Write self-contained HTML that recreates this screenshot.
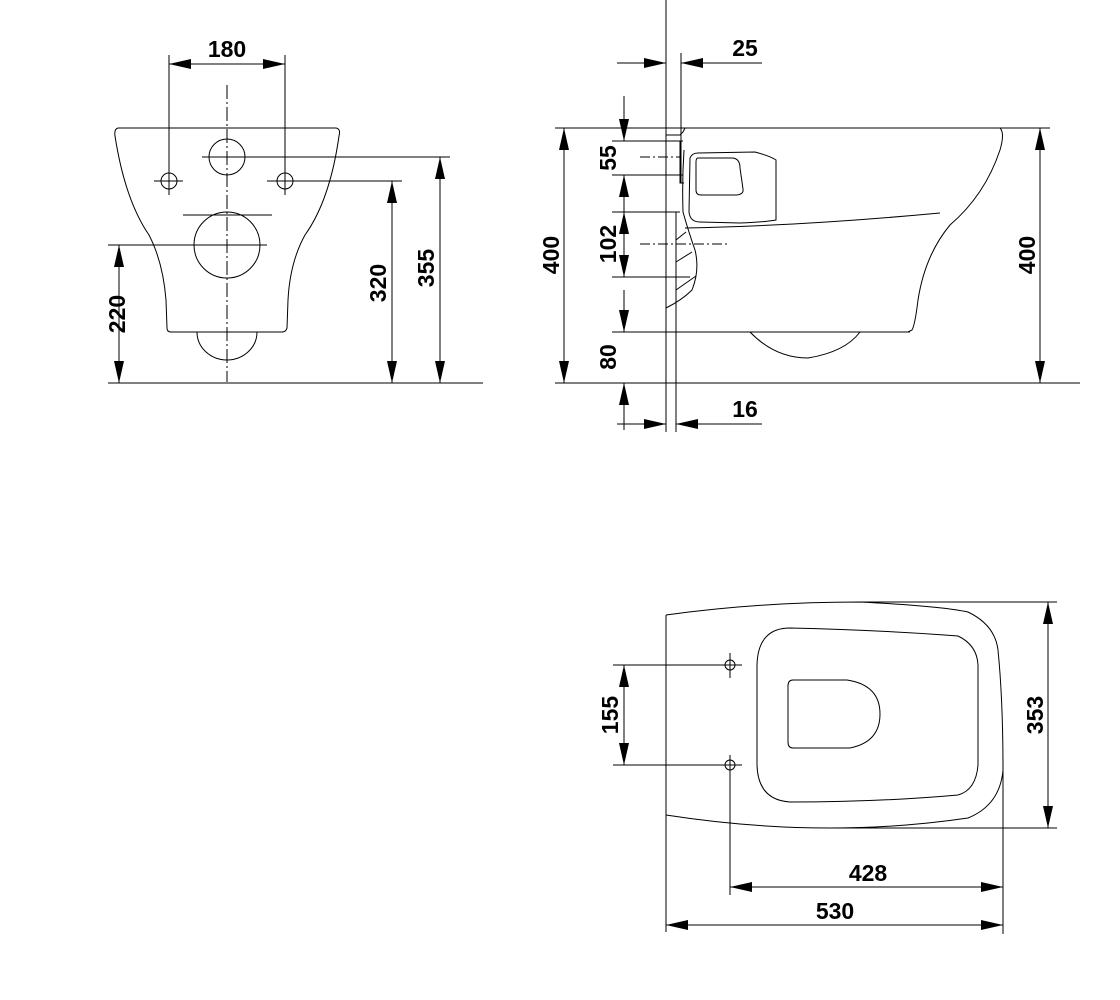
<!DOCTYPE html>
<html><head><meta charset="utf-8"><style>
html,body{margin:0;padding:0;background:#fff}
svg{display:block}
text{font-family:"Liberation Sans",Arial,sans-serif;font-weight:bold;font-size:23px;fill:#000}
</style></head><body>
<svg width="1120" height="1000" viewBox="0 0 1120 1000" xmlns="http://www.w3.org/2000/svg">
<defs>
<marker id="a" viewBox="0 0 22 10" refX="22" refY="5" markerWidth="22" markerHeight="10" markerUnits="userSpaceOnUse" orient="auto-start-reverse">
<path d="M0,0 L22,5 L0,10 Z" fill="#000"/></marker>
</defs>
<g fill="none" stroke="#000" stroke-width="1">
<!-- FRONT VIEW -->
<line x1="169" y1="55" x2="169" y2="195"/>
<line x1="285" y1="55" x2="285" y2="195"/>
<line x1="169" y1="64" x2="285" y2="64" marker-start="url(#a)" marker-end="url(#a)"/>
<line x1="227" y1="85" x2="227" y2="382" stroke-dasharray="14,3,2,3"/>
<path d="M118,128 L336,128 Q341,129 339,136 Q330,200 305,235 Q290,262 288,300 L287,328 Q286,332 282,332 L171,332 Q167,332 167,328 L166,300 Q163,262 149,235 Q125,200 115,136 Q114,129 118,128 Z"/>
<circle cx="227" cy="157" r="18"/>
<circle cx="169" cy="181" r="8"/>
<circle cx="285" cy="181" r="8"/>
<circle cx="227" cy="245" r="33"/>
<line x1="183" y1="215" x2="272" y2="215"/>
<path d="M197,332 A30,28 0 0 0 257,332"/>
<line x1="202" y1="157" x2="450" y2="157"/>
<line x1="154" y1="181" x2="183" y2="181"/>
<line x1="267" y1="181" x2="402" y2="181"/>
<line x1="108" y1="245" x2="267" y2="245"/>
<line x1="108" y1="383" x2="483" y2="383"/>
<line x1="119" y1="245" x2="119" y2="383" marker-start="url(#a)" marker-end="url(#a)"/>
<line x1="392" y1="181" x2="392" y2="383" marker-start="url(#a)" marker-end="url(#a)"/>
<line x1="440" y1="157" x2="440" y2="383" marker-start="url(#a)" marker-end="url(#a)"/>

<!-- SIDE VIEW -->
<line x1="666" y1="0" x2="666" y2="432"/>
<line x1="676" y1="212" x2="676" y2="432"/>
<line x1="681" y1="53" x2="681" y2="183"/>
<line x1="617" y1="63" x2="666" y2="63" marker-end="url(#a)"/>
<line x1="762" y1="63" x2="681" y2="63" marker-end="url(#a)"/>
<line x1="617" y1="424" x2="666" y2="424" marker-end="url(#a)"/>
<line x1="762" y1="424" x2="676" y2="424" marker-end="url(#a)"/>
<line x1="555" y1="128" x2="1050" y2="128"/>
<line x1="555" y1="383" x2="1080" y2="383"/>
<line x1="564" y1="128" x2="564" y2="383" marker-start="url(#a)" marker-end="url(#a)"/>
<line x1="1040" y1="128" x2="1040" y2="383" marker-start="url(#a)" marker-end="url(#a)"/>
<line x1="612" y1="141" x2="683" y2="141"/>
<line x1="612" y1="175" x2="683" y2="175"/>
<line x1="612" y1="212" x2="680" y2="212"/>
<line x1="612" y1="277" x2="690" y2="277"/>
<line x1="612" y1="332" x2="910" y2="332"/>
<line x1="640" y1="157" x2="680" y2="157" stroke-dasharray="10,3,2,3"/>
<line x1="640" y1="244" x2="728" y2="244" stroke-dasharray="10,3,2,3"/>
<line x1="624" y1="96" x2="624" y2="141" marker-end="url(#a)"/>
<line x1="624" y1="212" x2="624" y2="175" marker-end="url(#a)"/>
<line x1="624" y1="212" x2="624" y2="277" marker-start="url(#a)" marker-end="url(#a)"/>
<line x1="624" y1="290" x2="624" y2="332" marker-end="url(#a)"/>
<line x1="624" y1="430" x2="624" y2="383" marker-end="url(#a)"/>
<path d="M666,135 L680,135 L683,132 L685,128 M680,141 L680,183 L684,183 M684,150 Q682,180 683,212 Q688,230 695,250 Q700,270 692,290 Q682,300 666,308"/>
<path d="M676,240 L686,232 M676,262 L692,252 M676,290 L696,276"/>
<path d="M1000,128 Q1005,133 1000,150 Q985,195 950,225 Q925,255 918,300 Q915,325 912,330 L908,332"/>
<path d="M685,228 Q800,226 940,213"/>
<path d="M690,158 Q692,153 698,153 L755,152 Q770,156 776,160 L776,220 Q765,222 740,223 L700,222 Q690,222 689,212 Z"/>
<path d="M698,158 L733,158 Q740,159 740,168 L743,189 Q744,194 737,195 L701,195 Q696,195 696,190 L696,162 Q696,158 698,158 Z"/>
<path d="M750,332 Q775,358 808,358 Q845,352 860,332"/>

<!-- PLAN VIEW -->
<line x1="666" y1="615" x2="666" y2="932"/>
<path d="M666,615 Q760,602 860,602 Q940,606 968,612 Q995,625 998,650 Q1003,700 1003,770 Q1000,805 968,818 Q900,828 830,828 Q750,828 666,815"/>
<path d="M790,628 Q880,630 958,636 Q977,645 978,665 L978,765 Q976,790 958,795 Q880,802 790,802 Q758,800 757,765 L757,665 Q758,628 790,628 Z"/>
<path d="M793,680 L847,680 Q880,685 880,714 Q880,742 850,748 L793,748 Q788,748 788,742 L788,686 Q788,680 793,680 Z"/>
<circle cx="730" cy="665" r="5"/>
<circle cx="730" cy="765" r="5"/>
<line x1="730" y1="653" x2="730" y2="678"/>
<line x1="730" y1="755" x2="730" y2="895"/>
<line x1="613" y1="665" x2="742" y2="665"/>
<line x1="613" y1="765" x2="742" y2="765"/>
<line x1="624" y1="665" x2="624" y2="765" marker-start="url(#a)" marker-end="url(#a)"/>
<line x1="860" y1="602" x2="1057" y2="602"/>
<line x1="830" y1="828" x2="1057" y2="828"/>
<line x1="1048" y1="602" x2="1048" y2="828" marker-start="url(#a)" marker-end="url(#a)"/>
<line x1="1003" y1="770" x2="1003" y2="934"/>
<line x1="730" y1="887" x2="1003" y2="887" marker-start="url(#a)" marker-end="url(#a)"/>
<line x1="666" y1="925" x2="1003" y2="925" marker-start="url(#a)" marker-end="url(#a)"/>
</g>
<text x="227" y="57" text-anchor="middle">180</text>
<text transform="translate(125,314) rotate(-90)" text-anchor="middle">220</text>
<text transform="translate(386,283) rotate(-90)" text-anchor="middle">320</text>
<text transform="translate(434,268) rotate(-90)" text-anchor="middle">355</text>
<text x="745" y="56" text-anchor="middle">25</text>
<text x="745" y="417" text-anchor="middle">16</text>
<text transform="translate(559,255) rotate(-90)" text-anchor="middle">400</text>
<text transform="translate(1035,255) rotate(-90)" text-anchor="middle">400</text>
<text transform="translate(616,158) rotate(-90)" text-anchor="middle">55</text>
<text transform="translate(616,244) rotate(-90)" text-anchor="middle">102</text>
<text transform="translate(616,357) rotate(-90)" text-anchor="middle">80</text>
<text transform="translate(618,715) rotate(-90)" text-anchor="middle">155</text>
<text transform="translate(1043,715) rotate(-90)" text-anchor="middle">353</text>
<text x="868" y="881" text-anchor="middle">428</text>
<text x="835" y="919" text-anchor="middle">530</text>
</svg>
</body></html>
